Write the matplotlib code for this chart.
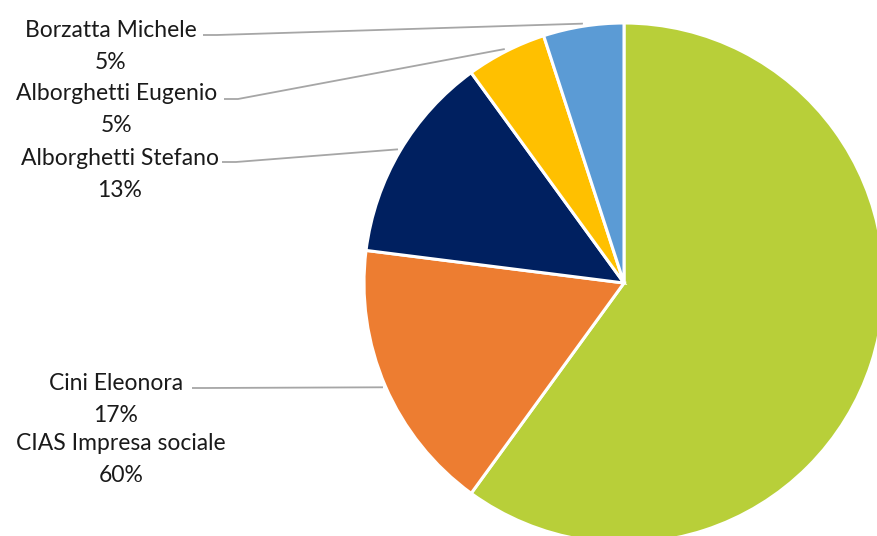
import numpy as np
import matplotlib
matplotlib.use("Agg")
import matplotlib.pyplot as plt

# data
labels = ["CIAS Impresa sociale", "Cini Eleonora", "Alborghetti Stefano",
          "Alborghetti Eugenio", "Borzatta Michele"]
shares = [60, 17, 13, 5, 5]
colors = ["#B8CF39", "#ED7D31", "#002060", "#FFC000", "#5B9BD5"]

# label layout in pixel coords (x centre, name baseline from top)
label_pos = [(121, 450), (116, 390), (120, 165), (117, 100), (111, 37)]
line_start = [None, (192, 388), (222, 162), (224, 99), (203, 35)]

plt.rcParams['font.family'] = ['Lato', 'DejaVu Sans']

W, H = 877, 536
fig = plt.figure(figsize=(W / 100, H / 100), dpi=100)
ax = fig.add_axes([0, 0, 1, 1])
ax.set_xlim(0, W)
ax.set_ylim(0, H)
ax.set_aspect('equal')
ax.axis('off')

cx, cy, r = 624, H - 283, 260
wedges, _ = ax.pie(shares, colors=colors, startangle=90, counterclock=False,
                   center=(cx, cy), radius=r, frame=True,
                   wedgeprops=dict(edgecolor='white', linewidth=2.2))
ax.set_xlim(0, W)
ax.set_ylim(0, H)
ax.axis('off')

for i, (lab, val) in enumerate(zip(labels, shares)):
    x, yb = label_pos[i]
    ax.text(x, H - yb, lab, ha='center', va='baseline', fontsize=16.5, color='#1a1a1a')
    ax.text(x, H - yb - 32, f"{val}%", ha='center', va='baseline', fontsize=16.5,
            color='#1a1a1a')
    if line_start[i] is not None:
        w = wedges[i]
        mid = np.deg2rad((w.theta1 + w.theta2) / 2)
        ex = cx + r * 1.01 * np.cos(mid)
        ey = cy + r * 1.01 * np.sin(mid)
        sx, sy = line_start[i]
        ax.plot([sx, sx + 14, ex], [H - sy, H - sy, ey], color='#a6a6a6', lw=1.3,
                solid_capstyle='butt', zorder=0)

fig.savefig("out.png", dpi=100, facecolor='white')
